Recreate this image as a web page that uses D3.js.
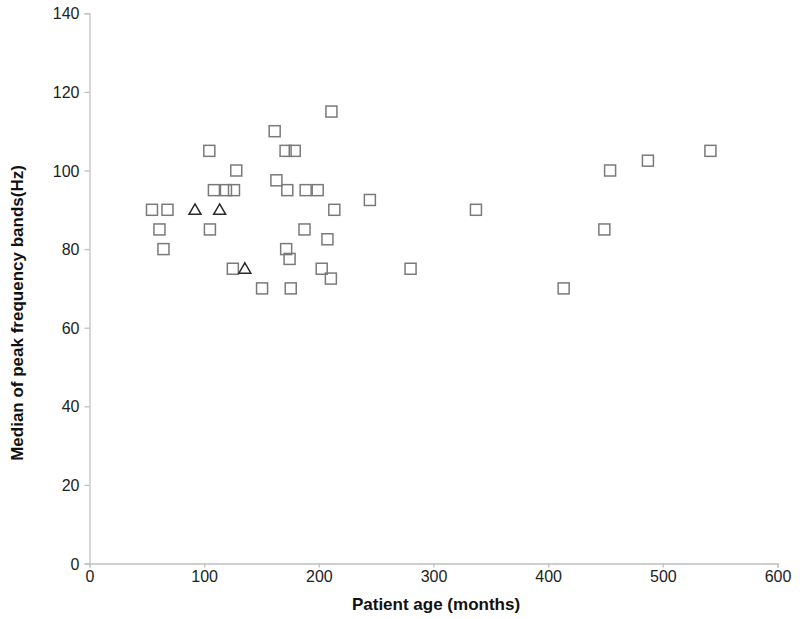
<!DOCTYPE html>
<html>
<head>
<meta charset="utf-8">
<script src="https://cdn.jsdelivr.net/npm/d3@7"></script>
<style>
  body { margin: 0; background: #fff; }
  text { font-family: "Liberation Sans", Arial, sans-serif; }
</style>
</head>
<body>
<div id="chart-area"></div>
<script>
/*
*    scatter of peak frequency medians vs age
*/

// squares
var squareAge = [211, 161.5, 104.5, 171, 179, 128, 163, 108.5, 119, 126, 172.5, 188.5, 199,
                 244.5, 54.5, 68, 213.5, 61, 105, 187.5, 207.5, 64.5, 171.5, 174.5, 125,
                 202.5, 210.5, 150.5, 175.5,
                 541.5, 487, 454, 337, 449, 280, 413.5];
var squareHz  = [115, 110, 105, 105, 105, 100, 97.5, 95, 95, 95, 95, 95, 95,
                 92.5, 90, 90, 90, 85, 85, 85, 82.5, 80, 80, 77.5, 75,
                 75, 72.5, 70, 70,
                 105, 102.5, 100, 90, 85, 75, 70];

// triangles
var triAge = [92, 113.5, 135.5];
var triHz  = [90, 90, 75];

var xTicks = [0, 100, 200, 300, 400, 500, 600];
var yTicks = [0, 20, 40, 60, 80, 100, 120, 140];

var width = 800, height = 619;
var margin = { left: 89.5, top: 13.3, right: 22.5, bottom: 55.5 };

var svg = d3.select("#chart-area").append("svg")
	.attr("width", width)
	.attr("height", height);

var x = d3.scaleLinear().domain([0, 600]).range([margin.left, width - margin.right]);
var y = d3.scaleLinear().domain([0, 140]).range([height - margin.bottom, margin.top]);

var axisColor = "#c0c0c0";

// y axis
var yAxis = svg.append("g")
    .attr("transform", "translate(" + margin.left + ",0)")
    .call(d3.axisLeft(y).tickValues(yTicks).tickSize(5).tickPadding(5));
// x axis
var xAxis = svg.append("g")
    .attr("transform", "translate(0," + (height - margin.bottom) + ")")
    .call(d3.axisBottom(x).tickValues(xTicks).tickSize(4).tickPadding(3));

[xAxis, yAxis].forEach(function(g) {
    g.select(".domain").attr("stroke", axisColor).attr("stroke-width", 1.3);
    g.selectAll(".tick line").attr("stroke", axisColor).attr("stroke-width", 1.3);
    g.selectAll(".tick text")
        .attr("fill", "#222")
        .style("font-size", "16px")
        .style("font-family", "'Liberation Sans', Arial, sans-serif");
});
yAxis.selectAll(".tick text").attr("dy", "0.35em");

// squares
var sqData = squareAge.map(function(a, i) { return { age: a, hz: squareHz[i] }; });
var sq = 11;
svg.selectAll("rect.sq").data(sqData).enter().append("rect")
    .attr("class", "sq")
    .attr("x", function(d) { return x(d.age) - sq / 2; })
    .attr("y", function(d) { return y(d.hz) - sq / 2; })
    .attr("width", sq)
    .attr("height", sq)
    .attr("fill", "none")
    .attr("stroke", "#7a7a7a")
    .attr("stroke-width", 1.5);

// triangles
var triData = triAge.map(function(a, i) { return { age: a, hz: triHz[i] }; });
var tri = d3.symbol().type(d3.symbolTriangle).size(62);
svg.selectAll("path.tri").data(triData).enter().append("path")
    .attr("class", "tri")
    .attr("d", tri)
    .attr("transform", function(d) { return "translate(" + x(d.age) + "," + (y(d.hz) + 1) + ")"; })
    .attr("fill", "none")
    .attr("stroke", "#2a2a2a")
    .attr("stroke-width", 1.5);

// titles
svg.append("text")
    .attr("x", 436)
    .attr("y", 610)
    .attr("text-anchor", "middle")
    .style("font-size", "17px")
    .style("font-weight", "bold")
    .attr("fill", "#111")
    .text("Patient age (months)");

svg.append("text")
    .attr("transform", "translate(23,313) rotate(-90)")
    .attr("text-anchor", "middle")
    .style("font-size", "17px")
    .style("font-weight", "bold")
    .attr("fill", "#111")
    .text("Median of peak frequency bands(Hz)");
</script>
</body>
</html>
